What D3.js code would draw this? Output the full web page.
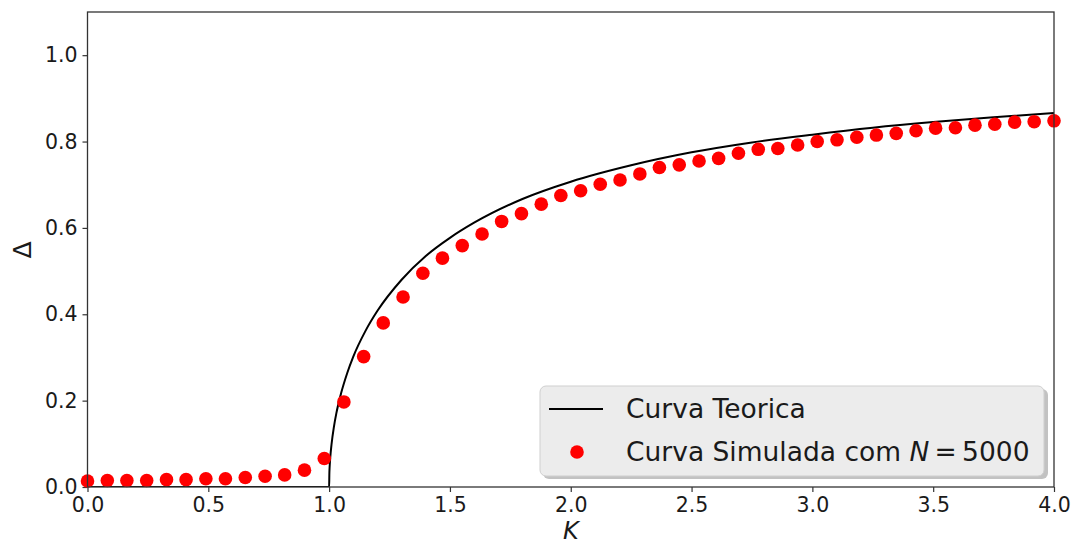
<!DOCTYPE html>
<html>
<head>
<meta charset="utf-8">
<script src="https://cdn.jsdelivr.net/npm/d3@7"></script>
<style>
html,body{margin:0;padding:0;background:#fff;}
svg{display:block;font-family:"DejaVu Sans",sans-serif;}
</style>
</head>
<body>
<svg id="chart" width="1077" height="545"></svg>
<script>
// Simulated points (K, Delta)
const simK = [0.000,0.082,0.163,0.245,0.327,0.408,0.490,0.571,0.653,0.735,0.816,0.898,0.980,1.061,1.143,1.224,1.306,1.388,1.469,1.551,1.633,1.714,1.796,1.878,1.959,2.041,2.122,2.204,2.286,2.367,2.449,2.531,2.612,2.694,2.776,2.857,2.939,3.020,3.102,3.184,3.265,3.347,3.429,3.510,3.592,3.673,3.755,3.837,3.918,4.000];
const simDelta = [0.014,0.015,0.015,0.015,0.017,0.017,0.019,0.019,0.022,0.025,0.028,0.039,0.066,0.197,0.302,0.380,0.440,0.495,0.530,0.559,0.586,0.615,0.633,0.655,0.675,0.686,0.701,0.711,0.725,0.740,0.746,0.755,0.761,0.773,0.782,0.784,0.792,0.800,0.804,0.810,0.815,0.819,0.825,0.831,0.832,0.838,0.840,0.845,0.846,0.848];
// Theoretical curve samples
const theoK = [0.0,0.5,1.0,1.001,1.002,1.005,1.01,1.02,1.03,1.05,1.075,1.1,1.15,1.2,1.3,1.4,1.5,1.6,1.8,2.0,2.25,2.5,2.75,3.0,3.25,3.5,3.75,4.0];
const theoDelta = [0,0,0,0.032,0.045,0.070,0.099,0.140,0.171,0.218,0.264,0.302,0.361,0.408,0.480,0.535,0.577,0.612,0.667,0.707,0.745,0.775,0.798,0.816,0.832,0.845,0.856,0.866];
const xTicks = [0,0.5,1,1.5,2,2.5,3,3.5,4];
const yTicks = [0,0.2,0.4,0.6,0.8,1.0];
const legendLabels = ["Curva Teorica", "Curva Simulada com "];

const svg = d3.select("#chart");
const L = 87.5, R = 1054, T = 12, B = 487;
const x = d3.scaleLinear().domain([0,4]).range([L,R]);
const y = d3.scaleLinear().domain([0,1.1]).range([B,T]);

// axes
const xa = svg.append("g").attr("transform",`translate(0,${B})`)
  .call(d3.axisBottom(x).tickValues(xTicks).tickFormat(d3.format(".1f")).tickSizeOuter(0).tickSize(5).tickPadding(5));
const ya = svg.append("g").attr("transform",`translate(${L},0)`)
  .call(d3.axisLeft(y).tickValues(yTicks).tickFormat(d3.format(".1f")).tickSizeOuter(0).tickSize(5).tickPadding(5));
[xa,ya].forEach(a=>{
  a.select(".domain").remove();
  a.selectAll("text").attr("font-size",20.5).attr("fill","#1a1a1a").attr("font-family","DejaVu Sans");
  a.selectAll("line").attr("stroke","#333").attr("stroke-width",1.2);
});

// clip
svg.append("clipPath").attr("id","clip").append("rect").attr("x",L).attr("y",T).attr("width",R-L).attr("height",B-T);

// theoretical line
const theo = theoK.map((k,i)=>[k,theoDelta[i]]);
svg.append("path").datum(theo)
  .attr("clip-path","url(#clip)")
  .attr("d",d3.line().x(d=>x(d[0])).y(d=>y(d[1])).curve(d3.curveMonotoneX))
  .attr("fill","none").attr("stroke","#000").attr("stroke-width",2);

// points
svg.append("g").selectAll("circle").data(simK).join("circle")
  .attr("cx",(d)=>x(d)).attr("cy",(d,i)=>y(simDelta[i])).attr("r",6.8).attr("fill","#ff0000");

// frame
svg.append("rect").attr("x",L).attr("y",T).attr("width",R-L).attr("height",B-T)
  .attr("fill","none").attr("stroke","#333").attr("stroke-width",1.3);

// legend
const lg = svg.append("g");
lg.append("rect").attr("x",543).attr("y",389).attr("width",505).attr("height",90).attr("rx",6)
  .attr("fill","#9a9a9a").attr("opacity",0.6);
lg.append("rect").attr("x",540).attr("y",386).attr("width",504).attr("height",90).attr("rx",6)
  .attr("fill","#ececec").attr("stroke","#cfcfcf").attr("stroke-width",1);
lg.append("line").attr("x1",549).attr("x2",603).attr("y1",409).attr("y2",409).attr("stroke","#000").attr("stroke-width",2);
lg.append("text").attr("x",626).attr("y",418).attr("font-size",26.5).attr("fill","#1a1a1a").text(legendLabels[0]);
lg.append("circle").attr("cx",577).attr("cy",452).attr("r",6.8).attr("fill","#ff0000");
const t2 = lg.append("text").attr("x",626).attr("y",461).attr("font-size",26.5).attr("fill","#1a1a1a");
t2.append("tspan").text(legendLabels[1]);
t2.append("tspan").attr("font-style","italic").text("N");
t2.append("tspan").text("\u2009=\u20095000");

// axis labels
svg.append("text").attr("x",570.75).attr("y",539).attr("text-anchor","middle").attr("font-size",24)
  .attr("font-style","italic").attr("fill","#1a1a1a").text("K");
svg.append("text").attr("transform","translate(31,250) rotate(-90)").attr("text-anchor","middle")
  .attr("font-size",25).attr("fill","#1a1a1a").text("Δ");
</script>
</body>
</html>
